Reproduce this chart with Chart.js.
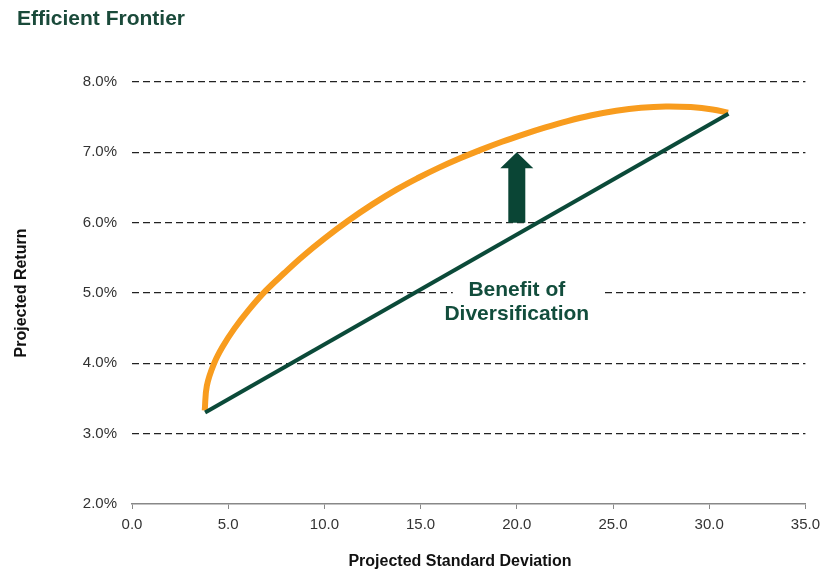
<!DOCTYPE html>
<html>
<head>
<meta charset="utf-8">
<script src="https://cdn.jsdelivr.net/npm/chart.js@4.4.1/dist/chart.umd.min.js"></script>
<style>
  html, body { margin: 0; padding: 0; background: #fff; }
  #frontierChart { display: block; }
</style>
</head>
<body>
<canvas id="frontierChart" width="827" height="571"></canvas>
<script>
const xTicks = [0, 5, 10, 15, 20, 25, 30, 35];
const yTicks = [2, 3, 4, 5, 6, 7, 8];

// straight line between the two single-asset portfolios
const lineRisk = [3.8, 31.0];
const lineReturn = [3.30, 7.55];

// efficient frontier
const frontierRisk = [3.78, 3.89, 4.27, 4.74, 5.31, 6.07, 6.94, 7.90, 8.91, 10.03, 11.20, 12.49, 13.81, 14.86,
  15.93, 17.02, 18.12, 19.23, 20.36, 21.49, 22.64, 23.89, 25.17, 26.45, 27.75, 29.04, 30.17, 30.98];
const frontierReturn = [3.33, 3.68, 4.00, 4.25, 4.49, 4.76, 5.03, 5.28, 5.53, 5.78, 6.02, 6.26, 6.48, 6.635,
  6.779, 6.912, 7.035, 7.150, 7.256, 7.354, 7.444, 7.527, 7.592, 7.635, 7.653, 7.643, 7.610, 7.563];

const benefitLabel = ["Benefit of", "Diversification"];
const arrowRisk = 20;
const arrowFrom = 6.0;
const arrowTo = 7.0;

const GREEN = "#0b4a39";
const ORANGE = "#f89c1e";

const toPoints = (xs, ys) => xs.map((x, i) => ({ x: x, y: ys[i] }));

const annotations = {
  id: "annotations",
  afterDatasetsDraw(chart) {
    const ctx = chart.ctx;
    const xs = chart.scales.x;
    const ys = chart.scales.y;

    // label box sits on top of the 5% grid line
    const lx = xs.getPixelForValue(arrowRisk);
    const ly = ys.getPixelForValue(5.0);
    ctx.save();
    ctx.fillStyle = "#fff";
    ctx.fillRect(lx - 64, ly - 16, 151, 40);
    ctx.fillStyle = "#124d3c";
    ctx.font = "bold 21px 'Liberation Sans', Arial, sans-serif";
    ctx.textAlign = "center";
    ctx.textBaseline = "middle";
    ctx.fillText(benefitLabel[0], lx, ly - 3);
    ctx.fillText(benefitLabel[1], lx, ly + 21);

    // upward arrow
    const ax = xs.getPixelForValue(arrowRisk);
    const top = ys.getPixelForValue(arrowTo);
    const bottom = ys.getPixelForValue(arrowFrom);
    const shaft = 8.5;
    const head = 16.5;
    const headH = 16;
    ctx.fillStyle = "#0a4535";
    ctx.beginPath();
    ctx.moveTo(ax, top);
    ctx.lineTo(ax + head, top + headH);
    ctx.lineTo(ax + shaft, top + headH);
    ctx.lineTo(ax + shaft, bottom);
    ctx.lineTo(ax - shaft, bottom);
    ctx.lineTo(ax - shaft, top + headH);
    ctx.lineTo(ax - head, top + headH);
    ctx.closePath();
    ctx.fill();
    ctx.restore();
  },
  afterDraw(chart) {
    const ctx = chart.ctx;
    ctx.save();
    ctx.fillStyle = "#1a4a3a";
    ctx.font = "bold 21px 'Liberation Sans', Arial, sans-serif";
    ctx.textAlign = "left";
    ctx.textBaseline = "alphabetic";
    ctx.fillText("Efficient Frontier", 17, 25);

    ctx.fillStyle = "#111";
    ctx.font = "bold 16px 'Liberation Sans', Arial, sans-serif";
    ctx.textAlign = "center";
    ctx.textBaseline = "middle";
    ctx.fillText("Projected Standard Deviation", 460, 562);

    ctx.translate(22, 293);
    ctx.rotate(-Math.PI / 2);
    ctx.fillText("Projected Return", 0, 0);
    ctx.restore();
  }
};

new Chart(document.getElementById("frontierChart"), {
  type: "scatter",
  data: {
    datasets: [
      {
        label: "Undiversified",
        data: toPoints(lineRisk, lineReturn),
        showLine: true,
        borderColor: GREEN,
        borderWidth: 4,
        pointRadius: 0,
      },
      {
        label: "Efficient Frontier",
        data: toPoints(frontierRisk, frontierReturn),
        showLine: true,
        borderColor: ORANGE,
        borderWidth: 6,
        pointRadius: 0,
        tension: 0.4,
      },
    ],
  },
  options: {
    responsive: false,
    animation: false,
    devicePixelRatio: 1,
    layout: { padding: { top: 82, right: 19, bottom: 0, left: 0 } },
    plugins: {
      legend: { display: false },
      tooltip: { enabled: false },
    },
    scales: {
      x: {
        type: "linear",
        min: xTicks[0],
        max: xTicks[xTicks.length - 1],
        afterBuildTicks: (scale) => { scale.ticks = xTicks.map((v) => ({ value: v })); },
        afterFit: (scale) => { scale.height = 67; },
        ticks: {
          padding: 7,
          color: "#333",
          font: { size: 15, family: "'Liberation Sans', Arial, sans-serif" },
          callback: (v) => Number(v).toFixed(1),
        },
        grid: { drawOnChartArea: false, drawTicks: true, tickLength: 5, color: "#888" },
        border: { display: true, color: "#888", width: 1.5 },
      },
      y: {
        type: "linear",
        min: yTicks[0],
        max: yTicks[yTicks.length - 1],
        afterBuildTicks: (scale) => { scale.ticks = yTicks.map((v) => ({ value: v })); },
        afterFit: (scale) => { scale.width = 132; },
        ticks: {
          padding: 15,
          color: "#333",
          font: { size: 15, family: "'Liberation Sans', Arial, sans-serif" },
          callback: (v) => Number(v).toFixed(1) + "%",
        },
        grid: {
          drawTicks: false,
          lineWidth: 1.3,
          color: (c) => (c.tick && c.tick.value === yTicks[0] ? "rgba(0,0,0,0)" : "#222"),
        },
        border: { display: false, dash: [7, 4] },
      },
    },
  },
  plugins: [annotations],
});
</script>
</body>
</html>
